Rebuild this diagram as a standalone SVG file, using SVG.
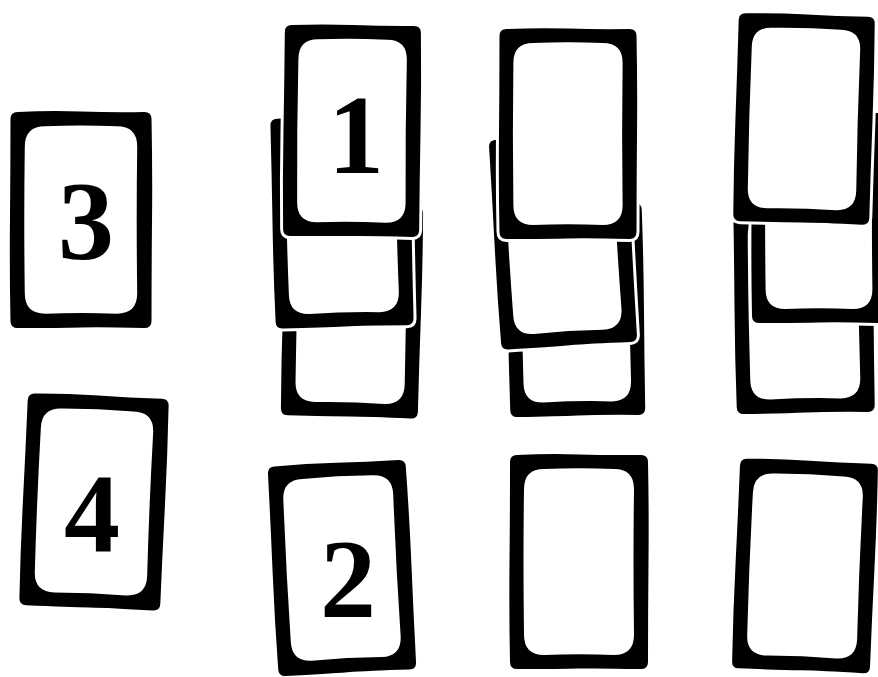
<svg xmlns="http://www.w3.org/2000/svg" width="878" height="677" viewBox="0 0 878 677">
<style>
.outer{fill:#000;stroke:#fff;stroke-width:6;paint-order:stroke;stroke-linejoin:round}
.inner{fill:#fff}
.num{font-family:"Liberation Serif","DejaVu Serif",serif;font-weight:bold;font-size:112px;text-anchor:middle;fill:#000}
</style>
<defs>
<g id="card">
<path class="outer" d="M -62,-106 Q -30,-107.5 0,-106.5 T 62,-106 Q 69,-106 69,-99 Q 70,-50 69.5,0 T 69,99 Q 69,106 62,106 Q 20,105 0,105.5 T -62,106 Q -69,106 -69,99 Q -70,50 -69.5,0 T -69,-99 Q -69,-106 -62,-106 Z"/>
<path class="inner" d="M -35,-92 Q 0,-93.5 35,-92 Q 55,-92 55,-72 Q 54,0 55,72 Q 55,92 35,92 Q 0,90.5 -35,92 Q -55,92 -55,72 Q -56,0 -55,-72 Q -55,-92 -35,-92 Z"/>
</g>
</defs>
<rect width="878" height="677" fill="#fff"/>
<g id="card-3">
<use href="#card" transform="translate(81,220) scale(1.022,1.019)"/>
<text class="num" x="86" y="259">3</text>
</g>
<g id="card-4">
<use href="#card" transform="translate(94,502) rotate(2.4) scale(1.022,1)"/>
<text class="num" x="92" y="552">4</text>
</g>
<g id="stack-1">
<g id="stack-1-bottom"><use href="#card" transform="translate(352,311) rotate(1.5) scale(0.993,1)"/></g>
<g id="stack-1-middle"><use href="#card" transform="translate(342,222) rotate(-1.5) scale(1,0.99)"/></g>
<g id="card-1">
<use href="#card" transform="translate(352,131) rotate(0.5) scale(0.986,0.995)"/>
<text class="num" x="356" y="173">1</text>
</g>
</g>
<g id="stack-2">
<g id="stack-2-bottom"><use href="#card" transform="translate(576,310) rotate(-1) scale(0.978,1)"/></g>
<g id="stack-2-middle"><use href="#card" transform="translate(563,241) rotate(-3.5) scale(0.986,0.99)"/></g>
<g id="stack-2-top"><use href="#card" transform="translate(568,134) scale(0.993,0.99)"/></g>
</g>
<g id="stack-3">
<g id="stack-3-bottom"><use href="#card" transform="translate(804,307) rotate(-1) scale(1,1)"/></g>
<g id="stack-3-middle"><use href="#card" transform="translate(819,218) scale(0.971,0.99)"/></g>
<g id="stack-3-top"><use href="#card" transform="translate(804,119) rotate(1.6) scale(0.986,0.981)"/></g>
</g>
<g id="card-2">
<use href="#card" transform="translate(342,568) rotate(-3) scale(1,0.99)"/>
<text class="num" x="348" y="617">2</text>
</g>
<g id="card-blank-1">
<use href="#card" transform="translate(579,562) scale(1,1.01)"/>
</g>
<g id="card-blank-2">
<use href="#card" transform="translate(805,566) rotate(2.3) scale(1,0.99)"/>
</g>
<g id="connectors"/>
</svg>
